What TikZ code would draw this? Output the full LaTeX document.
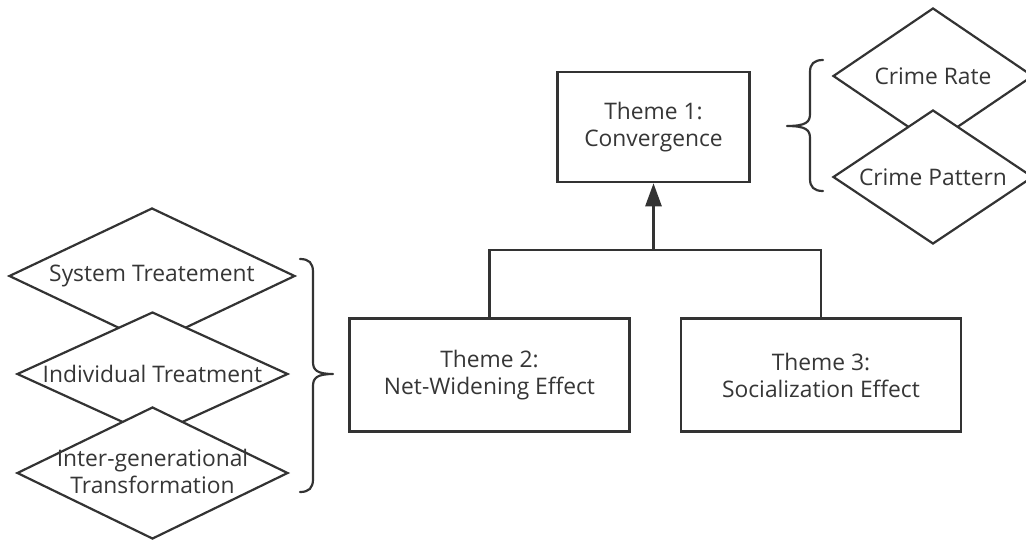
\documentclass[tikz,border=0pt]{standalone}
\usepackage{fontspec}
\setmainfont{Open Sans}
\usetikzlibrary{shapes.geometric,arrows.meta}
\definecolor{ink}{HTML}{333333}
\definecolor{txt}{HTML}{363636}
\tikzset{
  every node/.style={font=\fontsize{22.8}{27}\selectfont, text=txt, align=center},
  themebox/.style={draw=ink, line width=2.5pt, fill=white, rectangle, inner sep=0pt},
  facet/.style={draw=ink, line width=2.2pt, fill=white, diamond, inner sep=0pt, aspect=2},
  link/.style={draw=ink, line width=2.6pt},
  bracket/.style={draw=ink, line width=2.2pt, line cap=round, line join=round},
}
\begin{document}
\begin{tikzpicture}[x=1pt, y=-1pt]
\useasboundingbox (0,0) rectangle (1026,539);

% themes
\node[themebox, minimum width=192pt, minimum height=110pt] (t1) at (653.5,127) {Theme 1:\\Convergence};
\node[themebox, minimum width=280pt, minimum height=113pt] (t2) at (489.5,375) {Theme 2:\\Net-Widening Effect};
\node[themebox, minimum width=280pt, minimum height=113pt] (t3) at (821,375) {Theme 3:\\Socialization Effect};

% tree connector
\coordinate (j) at (653.5,250);
\draw[link] (t2.north) |- (j) -| (t3.north);
\draw[link, -{Triangle[length=23pt, width=16pt]}] (j) -- (t1.south);

% facets of theme 2 (each outline drawn first, its label on top)
\node[facet, minimum width=286pt, minimum height=136pt] (d1) at (152,276) {};
\node at (d1) {System Treatement};
\node[facet, minimum width=271pt, minimum height=124pt] (d2) at (152.5,374) {};
\node at (d2) {Individual Treatment};
\node[facet, minimum width=271pt, minimum height=132pt] (d3) at (152.5,473) {};
\node at ([yshift=2pt]d3) {Inter-generational\\Transformation};

% facets of theme 1
\node[facet, minimum width=200pt, minimum height=136pt] (c1) at (933,76) {};
\node at (c1) {Crime Rate};
\node[facet, minimum width=200pt, minimum height=134pt] (c2) at (933,177) {};
\node at (c2) {Crime Pattern};

% braces
\draw[bracket] (300,259) .. controls (309,259) and (313,263) .. (313,272)
  -- (313,362) .. controls (313,370) and (317,374) .. (333,374)
  .. controls (317,374) and (313,378) .. (313,386)
  -- (313,479) .. controls (313,488) and (309,492) .. (300,492);
\draw[bracket] (823,60) .. controls (814,60) and (810,64) .. (810,72)
  -- (810,114) .. controls (810,122) and (806,126) .. (787,126)
  .. controls (806,126) and (810,130) .. (810,138)
  -- (810,179) .. controls (810,187) and (814,191) .. (823,191);
\end{tikzpicture}
\end{document}
